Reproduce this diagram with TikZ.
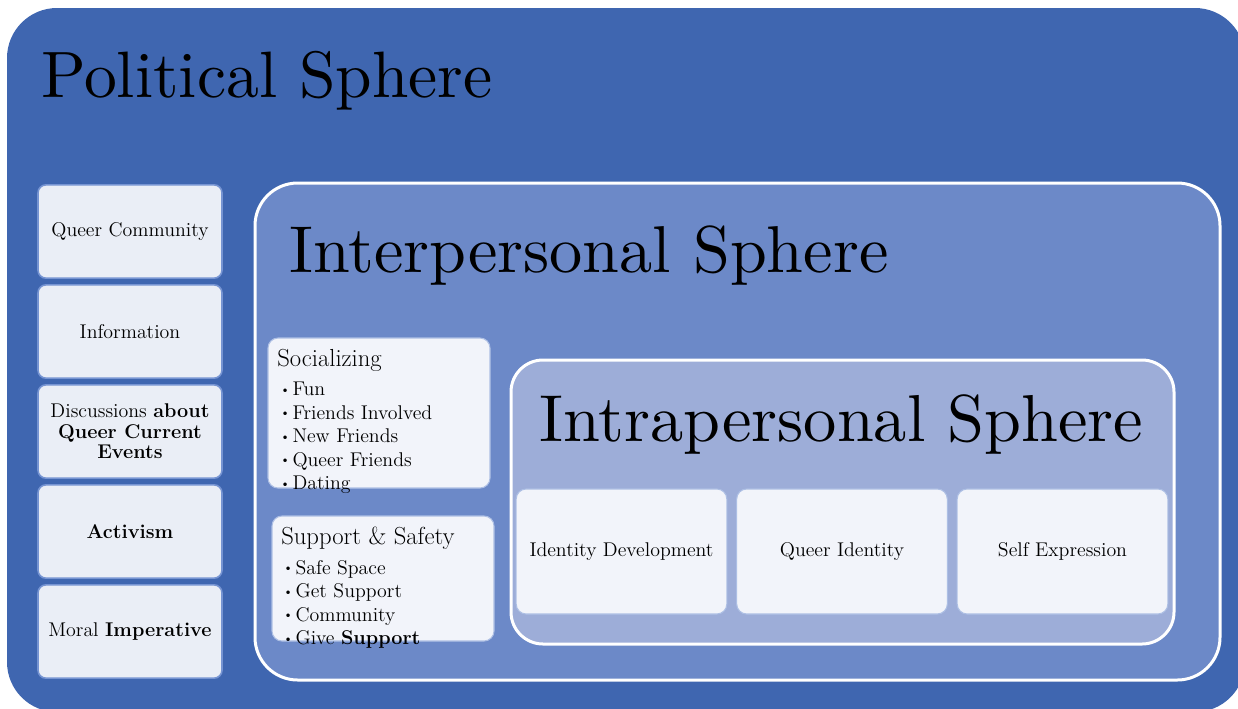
\documentclass[tikz,border=0pt]{standalone}
\usepackage{tikz}
\definecolor{politicalBlue}{RGB}{63,102,176}
\definecolor{interBlue}{RGB}{108,137,200}
\definecolor{intraBlue}{RGB}{157,173,216}
\definecolor{leftFill}{RGB}{234,238,246}
\definecolor{softFill}{RGB}{242,244,250}
\definecolor{boxLine}{RGB}{118,148,210}
\newcommand{\itemdot}{\raisebox{.3ex}{\fontsize{9}{9}\selectfont\textbullet}\hspace{2pt}}
\newcommand{\bigtitle}[2]{\scalebox{#1}{#2}}
\tikzset{
  sphere/.style={draw=white, line width=2.25pt},
  spheretitle/.style={anchor=base west, inner sep=0pt, font=\fontsize{10}{12}\selectfont},
  leftbox/.style={draw=boxLine, line width=1.2pt, fill=leftFill, rounded corners=6pt,
    minimum width=138pt, minimum height=70pt, align=center, font=\fontsize{14.9}{15.4}\selectfont},
  listbox/.style={draw=boxLine!60, line width=0.8pt, fill=softFill, rounded corners=7.5pt,
    minimum width=166.5pt},
  listhead/.style={anchor=base west, inner sep=0pt, font=\fontsize{18.5}{20}\selectfont},
  listtext/.style={anchor=north west, inner sep=0pt, align=left, font=\fontsize{14.9}{17.6}\selectfont},
  intrabox/.style={draw=boxLine!60, line width=0.8pt, fill=softFill, rounded corners=7.5pt,
    minimum width=158pt, minimum height=93.75pt, font=\fontsize{14.9}{16}\selectfont}
}
\begin{document}
\begin{tikzpicture}[x=0.75pt,y=-0.75pt]
\useasboundingbox (0,0) rectangle (1238,708);
\clip (0,0) rectangle (1238,708);

% political sphere
\fill[politicalBlue, rounded corners=37.5pt] (7,8) rectangle (1245,712);
\node[spheretitle] (polTitle) at (41,97) {\bigtitle{4.92}{Political Sphere}};

\node[leftbox] (community) at (130,231.5) {Queer Community};
\node[leftbox] (information) at (130,331.5) {Information};
\node[leftbox] (discussions) at (130,431.5) {Discussions \textbf{about}\\ \textbf{Queer Current}\\ \textbf{Events}};
\node[leftbox] (activism) at (130,531.5) {\textbf{Activism}};
\node[leftbox] (moral) at (130,631.5) {Moral \textbf{Imperative}};

% interpersonal sphere
\draw[sphere, fill=interBlue, rounded corners=32pt] (255,183) rectangle (1220,680);
\node[spheretitle] (interTitle) at (289,272) {\bigtitle{4.97}{Interpersonal Sphere}};

\node[listbox, minimum height=112.5pt] (social) at (379,413) {};
\node[listhead] (socialTitle) at (277,366) {Socializing};
\node[listtext] (socialList) at (280,382) {\itemdot Fun\\ \itemdot Friends Involved\\ \itemdot New Friends\\ \itemdot Queer Friends\\ \itemdot Dating};

\node[listbox, minimum height=93.75pt] (support) at (383,578.5) {};
\node[listhead] (supportTitle) at (281,544) {Support \& Safety};
\node[listtext] (supportList) at (283,560) {\itemdot Safe Space\\ \itemdot Get Support\\ \itemdot Community\\ \itemdot Give \textbf{Support}};

% intrapersonal sphere
\draw[sphere, fill=intraBlue, rounded corners=24pt] (511,360) rectangle (1174,644);
\node[spheretitle] (intraTitle) at (539,441) {\bigtitle{4.98}{Intrapersonal Sphere}};

\node[intrabox] (development) at (621.5,551.5) {Identity Development};
\node[intrabox] (identity) at (842,551.5) {Queer Identity};
\node[intrabox] (expression) at (1062.5,551.5) {Self Expression};
\end{tikzpicture}
\end{document}
